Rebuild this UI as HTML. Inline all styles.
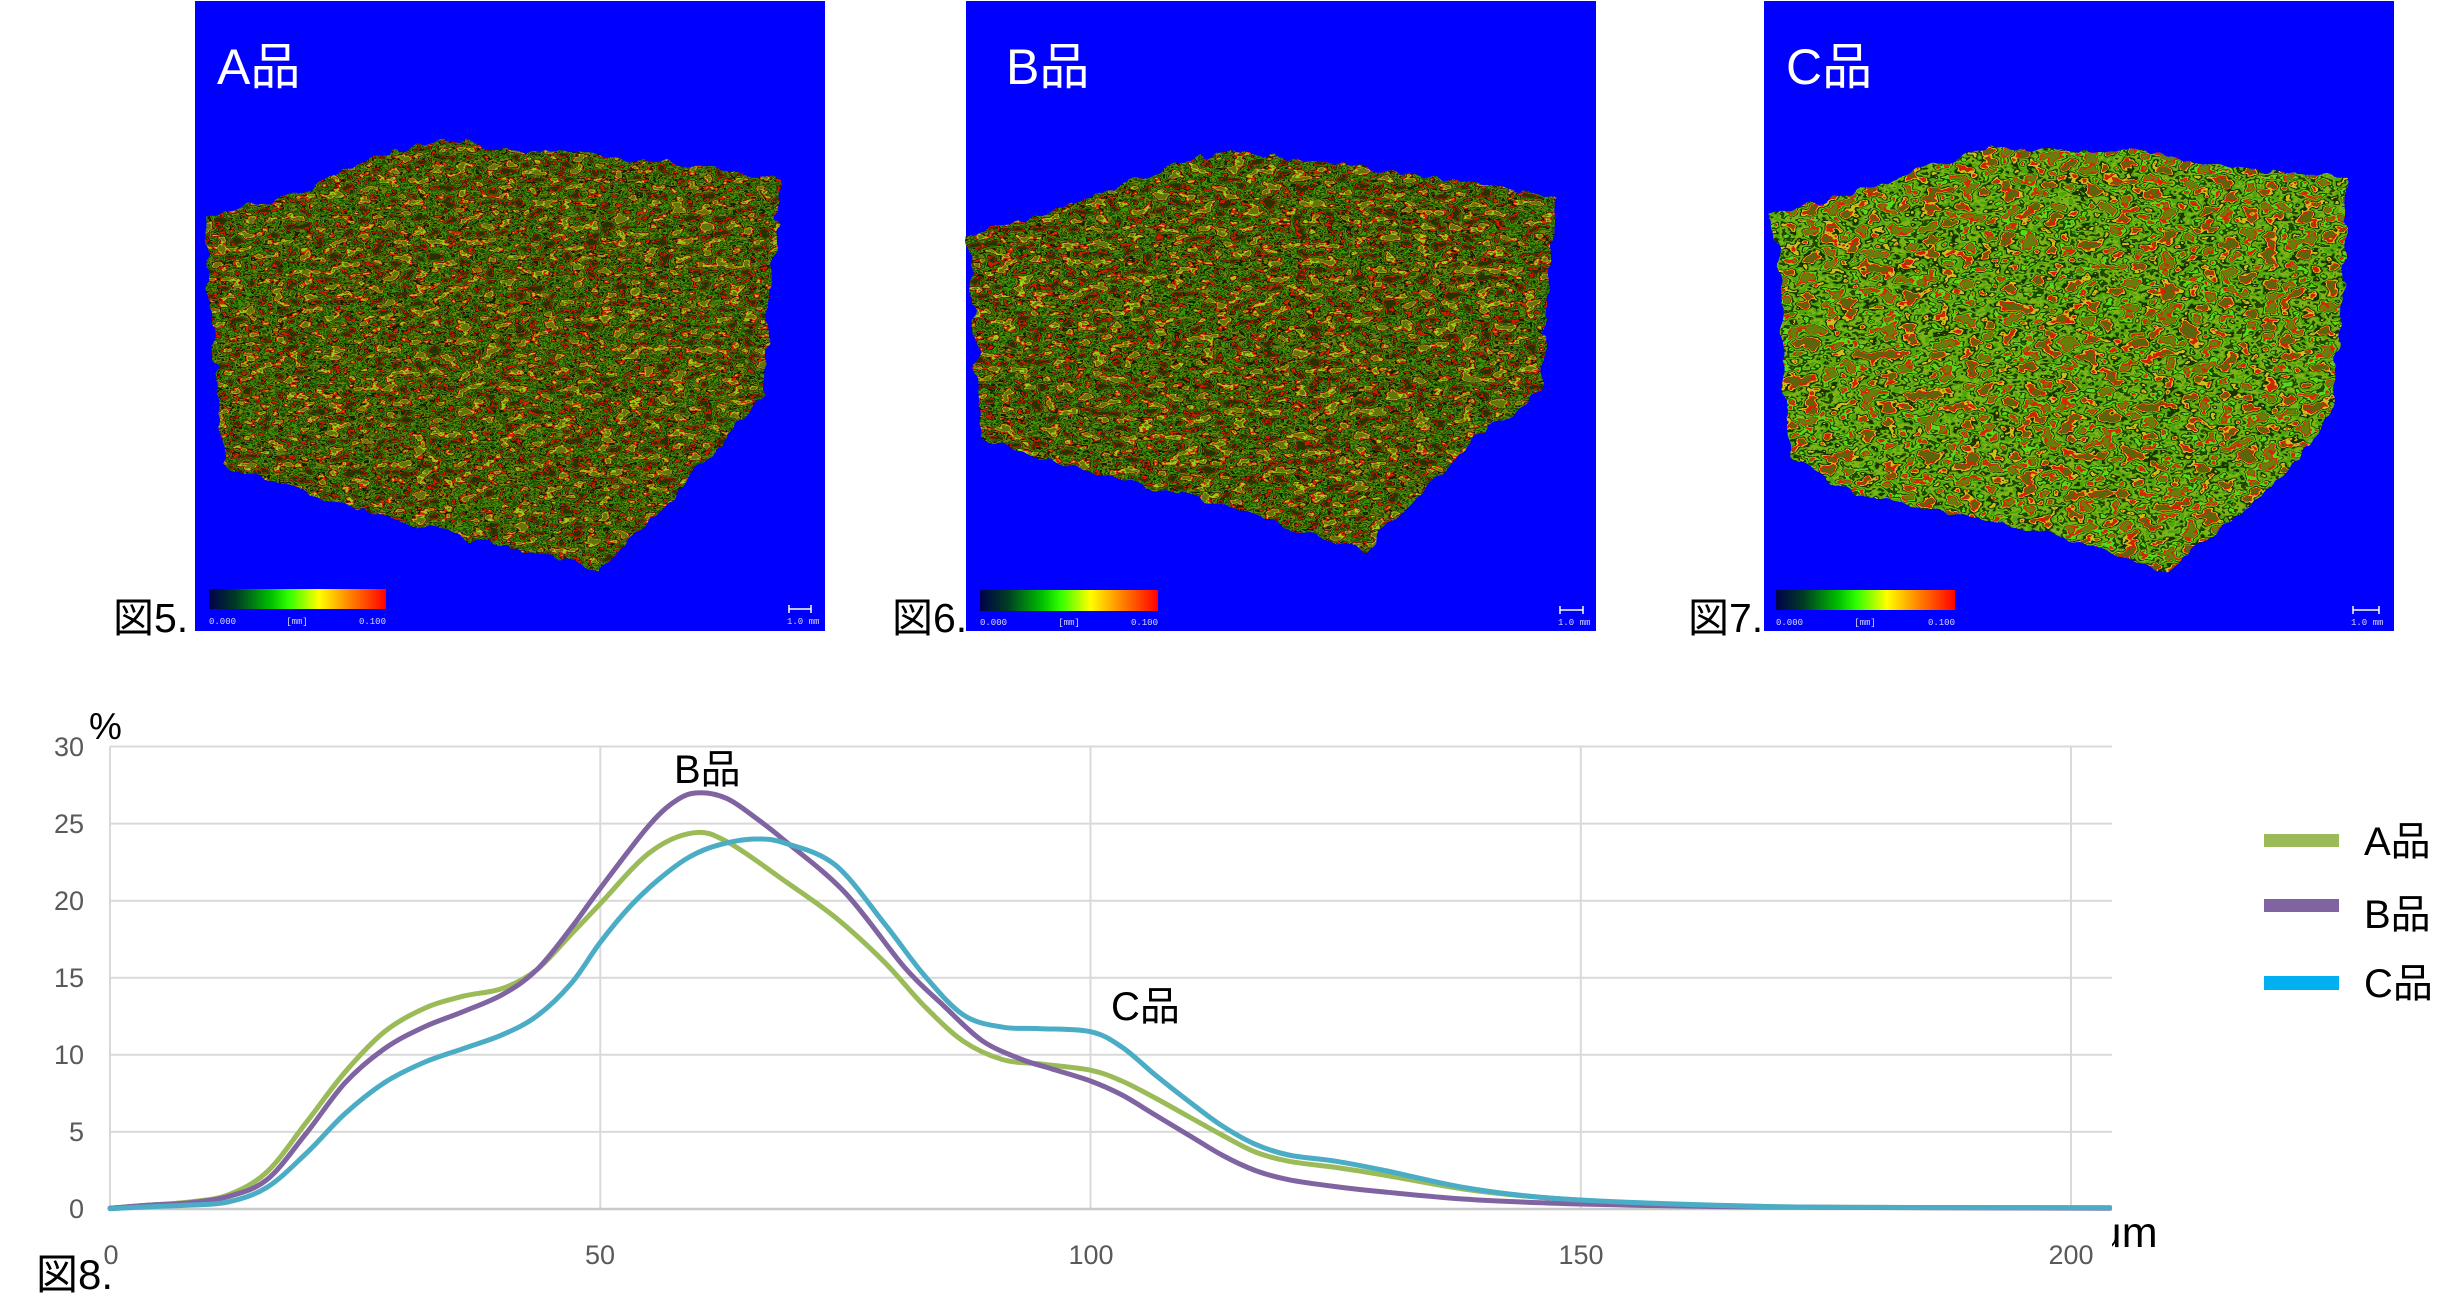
<!DOCTYPE html>
<html>
<head>
<meta charset="utf-8">
<style>
  html,body{margin:0;padding:0;background:#fff;}
  body{width:2461px;height:1315px;overflow:hidden;}
  svg{display:block;}
  .jp{font-family:"Liberation Sans","Noto Sans CJK JP",sans-serif;}
  .tick{font-family:"Liberation Sans Narrow","Liberation Sans",sans-serif;font-size:27px;fill:#595959;}
  .small{font-family:"Liberation Mono",monospace;font-size:9px;fill:#d8d8ff;}
</style>
</head>
<body>
<svg width="2461" height="1315" viewBox="0 0 2461 1315">
  <defs>
    <linearGradient id="cb" x1="0" x2="1" y1="0" y2="0">
      <stop offset="0" stop-color="#00004a"/>
      <stop offset="0.15" stop-color="#003a25"/>
      <stop offset="0.35" stop-color="#00c000"/>
      <stop offset="0.45" stop-color="#30ff00"/>
      <stop offset="0.62" stop-color="#ffff00"/>
      <stop offset="0.8" stop-color="#ff8000"/>
      <stop offset="1" stop-color="#ff0000"/>
    </linearGradient>

    <filter id="texA" x="-6%" y="-6%" width="112%" height="112%" color-interpolation-filters="sRGB">
      <feTurbulence type="fractalNoise" baseFrequency="0.05" numOctaves="2" seed="7" result="d"/>
      <feDisplacementMap in="SourceGraphic" in2="d" scale="16" xChannelSelector="R" yChannelSelector="G" result="shape"/>
      <feTurbulence type="fractalNoise" baseFrequency="0.07 0.13" numOctaves="3" seed="2" result="n"/>
      <feColorMatrix in="n" type="matrix" values="1 0 0 0 0  1 0 0 0 0  1 0 0 0 0  0 0 0 0 1" result="g"/>
      <feComponentTransfer in="g" result="c">
        <feFuncR type="discrete" tableValues="0.15 0.15 0.15 0.15 0.15 0.15 0.8 0.06 0.25 0.1 0.45 0.06 0.8 0.6 0.4 0.4 0.4 0.4 0.4 0.4"/>
        <feFuncG type="discrete" tableValues="0.2 0.2 0.2 0.2 0.2 0.2 0.12 0.14 0.55 0.3 0.5 0.14 0.15 0.8 0.45 0.45 0.45 0.45 0.45 0.45"/>
        <feFuncB type="discrete" tableValues="0 0 0 0 0 0 0 0 0.03 0 0.05 0 0 0.1 0.05 0.05 0.05 0.05 0.05 0.05"/>
      </feComponentTransfer>
      <feComposite in="c" in2="shape" operator="in"/>
    </filter>

    <filter id="texB" x="-6%" y="-6%" width="112%" height="112%" color-interpolation-filters="sRGB">
      <feTurbulence type="fractalNoise" baseFrequency="0.05" numOctaves="2" seed="11" result="d"/>
      <feDisplacementMap in="SourceGraphic" in2="d" scale="16" xChannelSelector="R" yChannelSelector="G" result="shape"/>
      <feTurbulence type="fractalNoise" baseFrequency="0.065 0.12" numOctaves="3" seed="5" result="n"/>
      <feColorMatrix in="n" type="matrix" values="1 0 0 0 0  1 0 0 0 0  1 0 0 0 0  0 0 0 0 1" result="g"/>
      <feComponentTransfer in="g" result="c">
        <feFuncR type="discrete" tableValues="0.15 0.15 0.15 0.15 0.15 0.15 0.8 0.06 0.25 0.1 0.45 0.06 0.8 0.6 0.4 0.4 0.4 0.4 0.4 0.4"/>
        <feFuncG type="discrete" tableValues="0.2 0.2 0.2 0.2 0.2 0.2 0.12 0.14 0.58 0.3 0.5 0.14 0.15 0.82 0.45 0.45 0.45 0.45 0.45 0.45"/>
        <feFuncB type="discrete" tableValues="0 0 0 0 0 0 0 0 0.03 0 0.05 0 0 0.1 0.05 0.05 0.05 0.05 0.05 0.05"/>
      </feComponentTransfer>
      <feComposite in="c" in2="shape" operator="in"/>
    </filter>

    <filter id="texC" x="-6%" y="-6%" width="112%" height="112%" color-interpolation-filters="sRGB">
      <feTurbulence type="fractalNoise" baseFrequency="0.05" numOctaves="2" seed="3" result="d"/>
      <feDisplacementMap in="SourceGraphic" in2="d" scale="14" xChannelSelector="R" yChannelSelector="G" result="shape"/>
      <feTurbulence type="fractalNoise" baseFrequency="0.05 0.08" numOctaves="3" seed="9" result="n"/>
      <feColorMatrix in="n" type="matrix" values="1 0 0 0 0  1 0 0 0 0  1 0 0 0 0  0 0 0 0 1" result="g"/>
      <feComponentTransfer in="g" result="c">
        <feFuncR type="discrete" tableValues="0.35 0.35 0.35 0.35 0.35 0.35 0.85 0.8 0.1 0.3 0.5 0.12 0.35 0.85 0.4 0.4 0.4 0.4 0.4 0.4"/>
        <feFuncG type="discrete" tableValues="0.4 0.4 0.4 0.4 0.4 0.4 0.12 0.75 0.2 0.65 0.7 0.28 0.85 0.15 0.5 0.5 0.5 0.5 0.5 0.5"/>
        <feFuncB type="discrete" tableValues="0.05 0.05 0.05 0.05 0.05 0.05 0 0.1 0 0.05 0.08 0 0.1 0 0.05 0.05 0.05 0.05 0.05 0.05"/>
      </feComponentTransfer>
      <feComposite in="c" in2="shape" operator="in"/>
    </filter>

    <clipPath id="umclip"><rect x="2112" y="1200" width="120" height="70"/></clipPath>
    <clipPath id="plotclip"><rect x="106" y="700" width="2006" height="520"/></clipPath>
  </defs>

  <!-- ===== Panel A ===== -->
  <rect x="195" y="1" width="630" height="630" fill="#0000ff"/>
  <polygon filter="url(#texA)" fill="#000" points="204,219 290,195 373,160 436,139 500,148 574,152 680,165 781,179 776,240 769,295 766,350 763,396 740,420 718,446 660,510 600,570 500,545 402,522 310,495 224,463 215,360 207,252"/>
  <text x="217" y="84" class="jp" font-size="50" fill="#fff">A品</text>
  <rect x="209" y="589" width="177" height="20" fill="url(#cb)"/>
  <text x="209" y="624" class="small">0.000</text>
  <text x="297" y="624" class="small" text-anchor="middle">[mm]</text>
  <text x="386" y="624" class="small" text-anchor="end">0.100</text>
  <path d="M789,609 H811 M789,605 V613 M811,605 V613" stroke="#fff" stroke-width="1.5" fill="none"/>
  <text x="787" y="624" class="small">1.0 mm</text>
  <text x="113" y="632" class="jp" font-size="41" fill="#000">図5.</text>

  <!-- ===== Panel B ===== -->
  <rect x="966" y="1" width="630" height="630" fill="#0000ff"/>
  <polygon filter="url(#texB)" fill="#000" points="967,236 1040,215 1110,190 1201,156 1247,152 1300,160 1400,172 1500,188 1557,197 1552,260 1545,330 1543,390 1510,415 1477,436 1420,495 1362,551 1300,530 1230,505 1110,477 1040,460 981,436 975,330"/>
  <text x="1006" y="84" class="jp" font-size="50" fill="#fff">B品</text>
  <rect x="980" y="590" width="178" height="21" fill="url(#cb)"/>
  <text x="980" y="625" class="small">0.000</text>
  <text x="1069" y="625" class="small" text-anchor="middle">[mm]</text>
  <text x="1158" y="625" class="small" text-anchor="end">0.100</text>
  <path d="M1560,610 H1583 M1560,606 V614 M1583,606 V614" stroke="#fff" stroke-width="1.5" fill="none"/>
  <text x="1558" y="625" class="small">1.0 mm</text>
  <text x="892" y="632" class="jp" font-size="41" fill="#000">図6.</text>

  <!-- ===== Panel C ===== -->
  <rect x="1764" y="1" width="630" height="630" fill="#0000ff"/>
  <polygon filter="url(#texC)" fill="#000" points="1772,213 1850,195 1920,170 1992,147 2060,150 2171,154 2185,163 2260,170 2348,177 2345,250 2341,321 2336,370 2332,413 2300,459 2240,515 2167,572 2100,550 2047,533 1950,512 1864,496 1790,459 1784,370 1781,275"/>
  <text x="1786" y="84" class="jp" font-size="50" fill="#fff">C品</text>
  <rect x="1776" y="590" width="179" height="20" fill="url(#cb)"/>
  <text x="1776" y="625" class="small">0.000</text>
  <text x="1865" y="625" class="small" text-anchor="middle">[mm]</text>
  <text x="1955" y="625" class="small" text-anchor="end">0.100</text>
  <path d="M2353,610 H2379 M2353,606 V614 M2379,606 V614" stroke="#fff" stroke-width="1.5" fill="none"/>
  <text x="2351" y="625" class="small">1.0 mm</text>
  <text x="1688" y="632" class="jp" font-size="41" fill="#000">図7.</text>

  <!-- ===== Chart ===== -->
  <g stroke="#d9d9d9" stroke-width="2" fill="none">
    <line x1="110" y1="746.5" x2="2112" y2="746.5"/>
    <line x1="110" y1="823.6" x2="2112" y2="823.6"/>
    <line x1="110" y1="900.7" x2="2112" y2="900.7"/>
    <line x1="110" y1="977.7" x2="2112" y2="977.7"/>
    <line x1="110" y1="1054.8" x2="2112" y2="1054.8"/>
    <line x1="110" y1="1131.9" x2="2112" y2="1131.9"/>
    <line x1="110" y1="746.5" x2="110" y2="1209"/>
    <line x1="600.3" y1="746.5" x2="600.3" y2="1209"/>
    <line x1="1090.5" y1="746.5" x2="1090.5" y2="1209"/>
    <line x1="1580.8" y1="746.5" x2="1580.8" y2="1209"/>
    <line x1="2071" y1="746.5" x2="2071" y2="1209"/>
  </g>
  <line x1="110" y1="1209" x2="2112" y2="1209" stroke="#c8c8c8" stroke-width="2.5"/>

  <!-- y tick labels -->
  <g class="tick" text-anchor="end">
    <text x="84" y="756">30</text>
    <text x="84" y="833">25</text>
    <text x="84" y="910">20</text>
    <text x="84" y="987">15</text>
    <text x="84" y="1064">10</text>
    <text x="84" y="1141">5</text>
    <text x="84" y="1218">0</text>
  </g>
  <!-- x tick labels -->
  <g class="tick" text-anchor="middle">
    <text x="111" y="1264">0</text>
    <text x="600" y="1264">50</text>
    <text x="1091" y="1264">100</text>
    <text x="1581" y="1264">150</text>
    <text x="2071" y="1264">200</text>
  </g>

  <text x="89" y="739" class="jp" font-size="37" fill="#000">%</text>
  <text x="2097" y="1247" class="jp" font-size="43" fill="#000" clip-path="url(#umclip)">μm</text>
  <text x="36" y="1289" class="jp" font-size="42" fill="#000">図8.</text>

  <g clip-path="url(#plotclip)" fill="none" stroke-width="5" stroke-linejoin="round" stroke-linecap="round">
    <path id="pA" stroke="#9bbb59" d=""/>
    <path id="pB" stroke="#8064a2" d=""/>
    <path id="pC" stroke="#4bacc6" d=""/>
  </g>

  <text x="674" y="783" class="jp" font-size="40" fill="#000">B品</text>
  <text x="1111" y="1020" class="jp" font-size="40" fill="#000">C品</text>

  <!-- legend -->
  <rect x="2264" y="834" width="75" height="13" fill="#9bbb59"/>
  <rect x="2264" y="899" width="75" height="13" fill="#8064a2"/>
  <rect x="2264" y="976" width="75" height="14" fill="#00b0f0"/>
  <text x="2364" y="855" class="jp" font-size="40" fill="#000">A品</text>
  <text x="2364" y="928" class="jp" font-size="40" fill="#000">B品</text>
  <text x="2364" y="997" class="jp" font-size="40" fill="#000">C品</text>
</svg>

<script>
(function(){
  var A=[[0,0.05],[4,0.25],[8,0.45],[12,0.9],[16,2.4],[20,5.6],[24,8.9],[28,11.5],[32,13.0],[36,13.8],[40,14.3],[43.5,15.5],[47,17.8],[50,19.8],[55,23.1],[59.5,24.4],[63,23.8],[69,21.2],[74,18.9],[79,16],[83,13.2],[87,10.9],[91,9.7],[95,9.4],[100,9.0],[103.2,8.3],[106.6,7.2],[110,6.0],[113.4,4.8],[116.8,3.7],[120.2,3.1],[125,2.7],[130,2.2],[138,1.3],[146,0.75],[155,0.4],[170,0.15],[185,0.1],[204,0.08]];
  var B=[[0,0.05],[4,0.25],[8,0.4],[12,0.8],[16,1.9],[20,4.9],[24,8.2],[28,10.4],[32,11.8],[36,12.8],[40,13.9],[43.5,15.5],[47,18.2],[50,20.8],[55,24.9],[58,26.6],[60.3,27.0],[63,26.6],[66,25.3],[69,23.8],[75,20.5],[81,15.7],[85,13.2],[89,10.9],[93,9.7],[96,9.1],[100,8.3],[103.2,7.4],[106.6,6.1],[110,4.8],[113.4,3.5],[116.8,2.5],[120.2,1.9],[125,1.45],[130,1.1],[138,0.65],[146,0.4],[155,0.25],[170,0.12],[204,0.05]];
  var C=[[0,0.02],[4,0.15],[8,0.25],[12,0.45],[16,1.4],[20,3.6],[24,6.2],[28,8.2],[32,9.5],[36,10.4],[40,11.3],[43.5,12.5],[47,14.6],[50,17.3],[53,19.6],[56,21.4],[59,22.8],[62,23.6],[65.8,24.0],[69,23.7],[74,22.3],[79,18.5],[83,15.2],[87,12.6],[91,11.8],[94.7,11.7],[100,11.5],[103.2,10.5],[106.6,8.7],[110,7.0],[113.4,5.4],[116.8,4.2],[120.2,3.5],[125,3.1],[130,2.5],[138,1.4],[146,0.75],[155,0.43],[170,0.15],[185,0.1],[204,0.08]];
  function toPx(p){return [110+9.805*p[0],1209-15.417*p[1]];}
  function path(pts){
    var P=pts.map(toPx);
    var d='M'+P[0][0].toFixed(1)+','+P[0][1].toFixed(1);
    for(var i=0;i<P.length-1;i++){
      var p0=P[i>0?i-1:0],p1=P[i],p2=P[i+1],p3=P[i+2<P.length?i+2:P.length-1];
      var c1x=p1[0]+(p2[0]-p0[0])/6,c1y=p1[1]+(p2[1]-p0[1])/6;
      var c2x=p2[0]-(p3[0]-p1[0])/6,c2y=p2[1]-(p3[1]-p1[1])/6;
      d+=' C'+c1x.toFixed(1)+','+c1y.toFixed(1)+' '+c2x.toFixed(1)+','+c2y.toFixed(1)+' '+p2[0].toFixed(1)+','+p2[1].toFixed(1);
    }
    return d;
  }
  document.getElementById('pA').setAttribute('d',path(A));
  document.getElementById('pB').setAttribute('d',path(B));
  document.getElementById('pC').setAttribute('d',path(C));
})();
</script>
</body>
</html>
